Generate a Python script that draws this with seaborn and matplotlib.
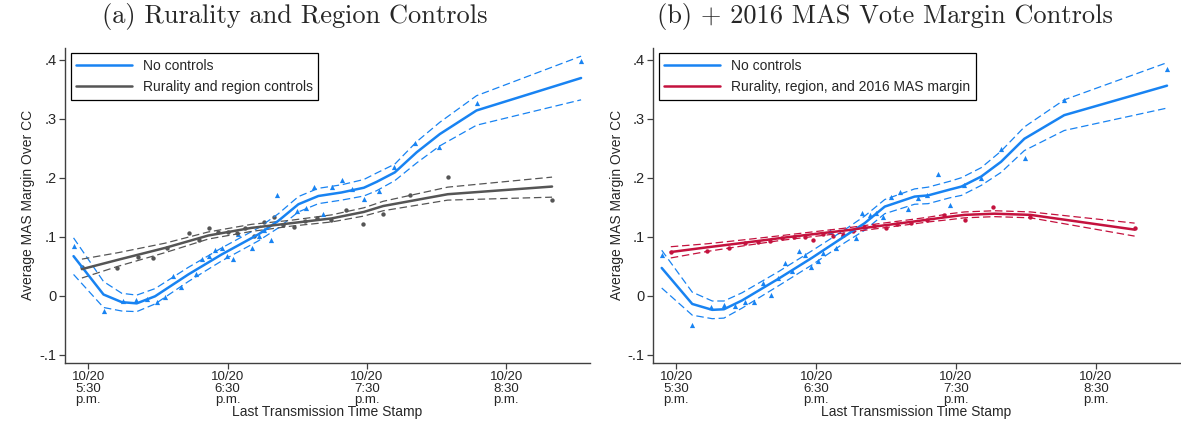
import numpy as np
import matplotlib
matplotlib.use("Agg")
import matplotlib.pyplot as plt
import seaborn as sns

# x values are minutes after 5:00 p.m. on 10/20
TICK_POS = [30, 90, 150, 210]
TICK_LABELS = ["10/20\n5:30\np.m.", "10/20\n6:30\np.m.", "10/20\n7:30\np.m.", "10/20\n8:30\np.m."]
Y_TICKS = [-0.1, 0, 0.1, 0.2, 0.3, 0.4]
Y_TICK_LABELS = ["-.1", "0", ".1", ".2", ".3", ".4"]

# ----- panel (a): no controls -----
a_fit_x = [23.7, 36.6, 44.5, 50.9, 58.8, 73.1, 87.5, 103.3, 111.9, 120.5, 129.1, 139.1,
           148.7, 154.2, 162.0, 171.4, 181.4, 197.2, 242.2]
a_fit_y = [0.067, 0.002, -0.011, -0.013, -0.001, 0.036, 0.070, 0.104, 0.127, 0.155, 0.169, 0.175,
           0.183, 0.193, 0.209, 0.243, 0.274, 0.314, 0.369]
a_fit_hi = [0.098, 0.024, 0.004, 0.001, 0.012, 0.048, 0.081, 0.115, 0.139, 0.168, 0.182, 0.188,
            0.197, 0.208, 0.223, 0.261, 0.294, 0.339, 0.406]
a_fit_lo = [0.036, -0.020, -0.026, -0.027, -0.014, 0.024, 0.059, 0.093, 0.115, 0.142, 0.156, 0.162,
            0.169, 0.178, 0.195, 0.225, 0.254, 0.289, 0.332]
a_pts_x = [23.7, 36.9, 44.8, 50.5, 55.2, 59.5, 63.1, 66.7, 70.0, 76.3, 78.9, 82.0, 84.6, 87.5,
           89.9, 92.5, 94.6, 100.4, 103.7, 105.8, 108.6, 111.4, 119.8, 123.6, 127.3, 130.9,
           134.8, 139.1, 143.7, 148.7, 155.2, 161.8, 170.5, 181.0, 197.6, 242.2]
a_pts_y = [0.085, -0.026, -0.009, -0.007, -0.005, -0.011, -0.003, 0.034, 0.015, 0.037, 0.062,
           0.068, 0.077, 0.081, 0.068, 0.062, 0.104, 0.081, 0.102, 0.111, 0.095, 0.171, 0.144,
           0.149, 0.185, 0.138, 0.185, 0.196, 0.181, 0.164, 0.177, 0.218, 0.258, 0.252, 0.327, 0.397]

# ----- panel (a): rurality and region controls -----
g_fit_x = [27.3, 43.0, 63.1, 81.7, 100.4, 117.6, 134.8, 148.7, 157.0, 184.8, 229.7]
g_fit_y = [0.045, 0.061, 0.081, 0.102, 0.115, 0.123, 0.131, 0.142, 0.152, 0.172, 0.185]
g_fit_hi = [0.062, 0.073, 0.089, 0.108, 0.121, 0.128, 0.137, 0.149, 0.160, 0.184, 0.201]
g_fit_lo = [0.030, 0.050, 0.073, 0.096, 0.109, 0.118, 0.125, 0.135, 0.144, 0.162, 0.167]
g_pts_x = [27.3, 42.6, 51.4, 58.1, 63.8, 73.6, 77.9, 82.2, 86.1, 90.3, 94.0, 97.5, 101.5,
           105.7, 110.0, 114.0, 118.5, 123.3, 128.6, 134.4, 140.8, 148.1, 157.0, 168.5, 184.8, 229.7]
g_pts_y = [0.049, 0.047, 0.066, 0.064, 0.080, 0.106, 0.095, 0.115, 0.108, 0.108, 0.106, 0.115,
           0.101, 0.125, 0.134, 0.119, 0.117, 0.127, 0.132, 0.128, 0.145, 0.122, 0.138, 0.171,
           0.202, 0.162]

# ----- panel (b): no controls -----
b_fit_x = [23.7, 36.8, 45.4, 50.4, 58.2, 73.9, 88.1, 102.3, 110.8, 119.4, 132.2, 138.0,
           147.4, 152.3, 160.8, 169.3, 179.3, 196.4, 240.5]
b_fit_y = [0.047, -0.014, -0.024, -0.023, -0.008, 0.029, 0.064, 0.101, 0.123, 0.151, 0.168, 0.170,
           0.180, 0.185, 0.202, 0.227, 0.266, 0.306, 0.356]
b_fit_hi = [0.077, 0.006, -0.009, -0.009, 0.005, 0.041, 0.076, 0.112, 0.135, 0.163, 0.181, 0.184,
            0.194, 0.200, 0.217, 0.245, 0.286, 0.332, 0.395]
b_fit_lo = [0.013, -0.033, -0.039, -0.038, -0.021, 0.017, 0.052, 0.090, 0.111, 0.139, 0.155, 0.156,
            0.166, 0.170, 0.187, 0.209, 0.246, 0.280, 0.318]
b_pts_x = [23.7, 36.8, 45.0, 50.6, 55.3, 59.6, 63.4, 67.0, 70.6, 73.6, 76.7, 79.5, 82.4, 85.2,
           87.8, 90.6, 93.1, 95.9, 98.5, 101.3, 106.9, 109.7, 113.0, 115.8, 118.7, 122.2, 125.8,
           129.4, 133.6, 137.6, 142.4, 147.4, 153.4, 160.5, 169.3, 179.7, 196.1, 240.5]
b_pts_y = [0.069, -0.050, -0.020, -0.015, -0.017, -0.010, -0.011, 0.022, 0.002, 0.030, 0.056,
           0.042, 0.076, 0.069, 0.049, 0.058, 0.073, 0.109, 0.081, 0.104, 0.097, 0.140, 0.137,
           0.140, 0.133, 0.168, 0.176, 0.147, 0.165, 0.170, 0.206, 0.154, 0.187, 0.199, 0.248,
           0.234, 0.331, 0.384]

# ----- panel (b): rurality, region, 2016 MAS margin -----
r_fit_x = [27.6, 43.2, 59.6, 75.3, 88.1, 101.3, 114.8, 130.5, 138.0, 147.4, 153.7, 166.5, 181.9, 226.6]
r_fit_y = [0.074, 0.082, 0.090, 0.098, 0.104, 0.110, 0.117, 0.125, 0.129, 0.134, 0.137, 0.139, 0.137, 0.112]
r_fit_hi = [0.083, 0.088, 0.095, 0.102, 0.108, 0.114, 0.121, 0.129, 0.133, 0.139, 0.142, 0.144, 0.142, 0.123]
r_fit_lo = [0.064, 0.075, 0.085, 0.094, 0.100, 0.106, 0.113, 0.121, 0.125, 0.129, 0.132, 0.134, 0.132, 0.101]
r_pts_x = [27.6, 43.2, 52.5, 59.6, 65.0, 70.3, 75.3, 80.3, 85.0, 88.8, 93.1, 97.0, 101.3,
           105.9, 110.4, 114.8, 119.8, 124.8, 130.5, 137.5, 144.7, 153.7, 165.8, 181.9, 226.6]
r_pts_y = [0.074, 0.076, 0.081, 0.090, 0.091, 0.092, 0.097, 0.099, 0.099, 0.094, 0.105, 0.101,
           0.103, 0.109, 0.116, 0.118, 0.114, 0.122, 0.123, 0.129, 0.136, 0.128, 0.150, 0.134, 0.114]

BLUE = "#1883F2"
GRAY = "#555555"
RED = "#C4123E"

sns.set_style("ticks")
plt.rcParams["font.family"] = ["Liberation Sans", "DejaVu Sans"]

fig = plt.figure(figsize=(11.81, 4.24), dpi=100)
ax_a = fig.add_axes([0.055, 0.144, 0.4445, 0.743])
ax_b = fig.add_axes([0.553, 0.144, 0.446, 0.743])


def draw_series(ax, fx, fy, lo, hi, px, py, color, marker, msize, label):
    sns.scatterplot(x=px, y=py, color=color, marker=marker, s=msize, linewidth=0, ax=ax, zorder=2)
    for band in (lo, hi):
        sns.lineplot(x=fx, y=band, color=color, linewidth=0.9, dashes=False, ax=ax,
                     sort=False, estimator=None, zorder=3).lines[-1].set_dashes([6, 3])
    sns.lineplot(x=fx, y=fy, color=color, linewidth=1.8, ax=ax, sort=False,
                 estimator=None, label=label, zorder=4)


def style_axis(ax):
    ax.set_xlim(20, 246)
    ax.set_ylim(-0.114, 0.42)
    ax.set_xticks(TICK_POS)
    ax.set_xticklabels(TICK_LABELS, fontsize=9.5, linespacing=0.95)
    ax.set_yticks(Y_TICKS)
    ax.set_yticklabels(Y_TICK_LABELS, fontsize=10.5)
    ax.set_xlabel("Last Transmission Time Stamp", fontsize=10, labelpad=-1)
    ax.set_ylabel("Average MAS Margin Over CC", fontsize=10, labelpad=3)
    sns.despine(ax=ax)
    for s in ("left", "bottom"):
        ax.spines[s].set_color("#404040")
        ax.spines[s].set_linewidth(1.0)
    ax.tick_params(axis="both", color="#404040", length=4, width=0.9, pad=2)
    leg = ax.legend(loc="upper left", fontsize=10, frameon=True, fancybox=False,
                    edgecolor="black", framealpha=1, handlelength=4.0, borderaxespad=0.4,
                    labelspacing=0.5, borderpad=0.4, handletextpad=0.8)
    leg.get_frame().set_linewidth(0.9)


draw_series(ax_a, a_fit_x, a_fit_y, a_fit_lo, a_fit_hi, a_pts_x, a_pts_y, BLUE, "^", 14, "No controls")
draw_series(ax_a, g_fit_x, g_fit_y, g_fit_lo, g_fit_hi, g_pts_x, g_pts_y, GRAY, "o", 10,
            "Rurality and region controls")
style_axis(ax_a)

draw_series(ax_b, b_fit_x, b_fit_y, b_fit_lo, b_fit_hi, b_pts_x, b_pts_y, BLUE, "^", 14, "No controls")
draw_series(ax_b, r_fit_x, r_fit_y, r_fit_lo, r_fit_hi, r_pts_x, r_pts_y, RED, "o", 10,
            "Rurality, region, and 2016 MAS margin")
style_axis(ax_b)

fig.text(0.25, 0.962, "(a) Rurality and Region Controls", ha="center", va="center",
         fontsize=19, family="cmr10")
fig.text(0.749, 0.962, "(b) + 2016 MAS Vote Margin Controls", ha="center", va="center",
         fontsize=19, family="cmr10")

fig.savefig("out.png", dpi=100)
